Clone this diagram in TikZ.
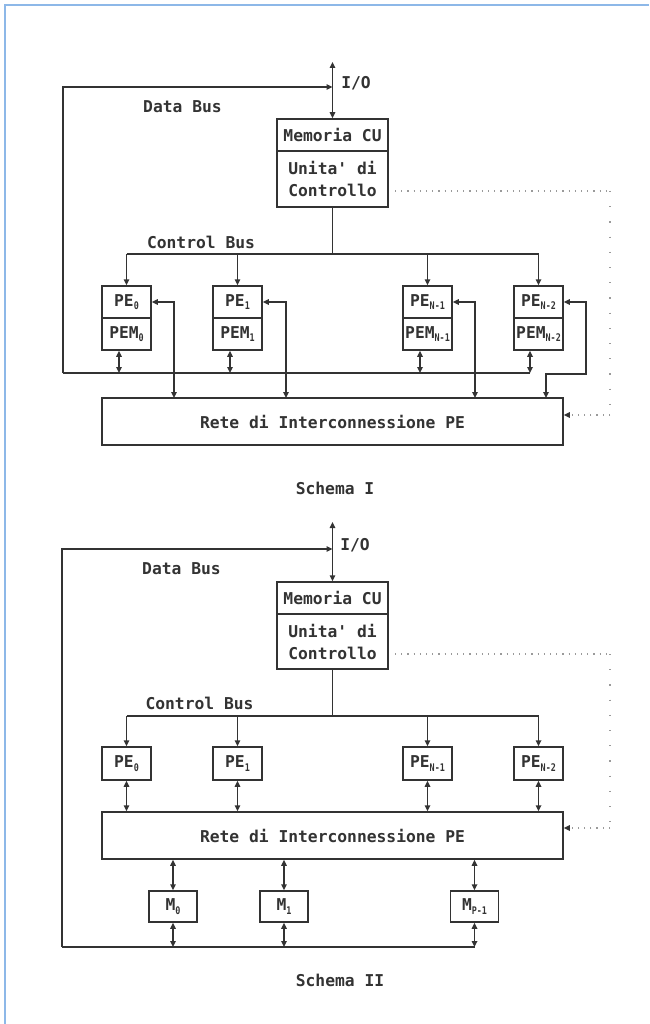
\documentclass[tikz,border=0pt]{standalone}
\usepackage{fontspec}
\usepackage{graphicx}
\usetikzlibrary{arrows.meta}
\newfontfamily\dmono{DejaVu Sans Mono}
\newcommand{\psub}[1]{\raisebox{-0.4ex}{\fontsize{10.5}{10.5}\selectfont\scalebox{0.8}[1]{#1}}}
\definecolor{ink}{HTML}{333333}
\definecolor{frameblue}{HTML}{8DB8E8}
\definecolor{dotgray}{HTML}{9A9A9A}
\begin{document}
\begin{tikzpicture}[x=1pt,y=-1pt,
  every node/.style={font=\dmono\bfseries\fontsize{16.3}{22}\selectfont, text=ink},
  box/.style={draw=ink, line width=1.5pt, inner sep=0pt, fill=white},
  pebox/.style={box, minimum width=49pt, minimum height=32pt},
  mbox/.style={box, minimum width=48pt, minimum height=31pt},
  cubox/.style={box, minimum width=111pt},
  retebox/.style={box, minimum width=461pt, minimum height=47pt},
  wire/.style={draw=ink, line width=1.5pt},
  onearrow/.style={-{Triangle[length=6pt,width=5.5pt]}},
  twoarrow/.style={{Triangle[length=6pt,width=5.5pt]}-{Triangle[length=6pt,width=5.5pt]}},
  hdots/.style={draw=dotgray, line width=1.3pt, dash pattern=on 1.2pt off 5pt},
  vdots/.style={draw=dotgray, line width=1.3pt, dash pattern=on 1.2pt off 14pt},
  lbl/.style={inner sep=0pt}
]
\useasboundingbox (0,0) rectangle (649,1024);
\fill[white] (0,0) rectangle (649,1024);
\draw[frameblue, line width=1.5pt] (5,1024) -- (5,5) -- (649,5);

% ================= Schema I =================
\node[cubox, minimum height=32pt] (cu1m) at (332.5,135) {Memoria CU};
\node[cubox, minimum height=56pt, align=left] (cu1c) at (332.5,179) {Unita' di\\Controllo};
\coordinate (io1) at (332.5,62);
\draw[wire, twoarrow] (io1) -- (cu1m.north);
\node[lbl] (io1l) at (356,83) {I/O};
\node[lbl] (db1l) at (182.5,107) {Data Bus};
\node[lbl] (cb1l) at (201,242) {Control Bus};

\node[pebox] (pe0) at (126.5,302) {PE\psub{0}};
\node[pebox] (pem0) at (126.5,334) {PEM\psub{0}};
\node[pebox] (pe1) at (237.5,302) {PE\psub{1}};
\node[pebox] (pem1) at (237.5,334) {PEM\psub{1}};
\node[pebox] (pen1) at (427.5,302) {PE\psub{N-1}};
\node[pebox] (pemn1) at (427.5,334) {PEM\psub{N-1}};
\node[pebox] (pen2) at (538.5,302) {PE\psub{N-2}};
\node[pebox] (pemn2) at (538.5,334) {PEM\psub{N-2}};

\node[retebox] (rete1) at (332.5,421.5) {Rete di Interconnessione PE};

% data bus
\coordinate (db1a) at (63,373);
\coordinate (db1b) at (332.5,87);
\coordinate (db1e) at (530,373);
\draw[wire, onearrow] (db1a) |- (db1b);
\draw[wire] (db1a) -- (db1e);
\coordinate (t10) at (119,373);
\coordinate (t11) at (230,373);
\coordinate (t12) at (420,373);
\coordinate (t13) at (530,373);
\draw[wire, twoarrow] (t10 |- pem0.south) -- (t10);
\draw[wire, twoarrow] (t11 |- pem1.south) -- (t11);
\draw[wire, twoarrow] (t12 |- pemn1.south) -- (t12);
\draw[wire, twoarrow] (t13 |- pemn2.south) -- (t13);

% control bus
\coordinate (cb1) at (332.5,254);
\coordinate (cb1l0) at (126.5,254);
\coordinate (cb1r0) at (538.5,254);
\draw[wire] (cu1c.south) -- (cb1);
\draw[wire] (cb1l0) -- (cb1r0);
\draw[wire, onearrow] (cb1l0) -- (pe0.north);
\draw[wire, onearrow] (pe1.north |- cb1) -- (pe1.north);
\draw[wire, onearrow] (pen1.north |- cb1) -- (pen1.north);
\draw[wire, onearrow] (cb1r0) -- (pen2.north);

% PE <-> interconnection network
\coordinate (r10) at (174,398);
\coordinate (r11) at (286,398);
\coordinate (r12) at (475,398);
\coordinate (k1) at (586,374);
\coordinate (k2) at (546,398);
\draw[wire, twoarrow] (pe0.east) -| (r10);
\draw[wire, twoarrow] (pe1.east) -| (r11);
\draw[wire, twoarrow] (pen1.east) -| (r12);
\draw[wire, twoarrow] (pen2.east) -| (k1) -| (k2);

% dotted control line
\coordinate (d1a) at (395,191);
\coordinate (d1b) at (610,191);
\coordinate (d1c) at (610,415);
\coordinate (d1d) at (570,415);
\draw[hdots] (d1a) -- (d1b);
\draw[vdots] (d1b) -- (d1c);
\draw[hdots] (d1c) -- (d1d);
\draw[wire, onearrow] (d1d) -- (rete1.east |- d1d);

\node[lbl] (cap1) at (335,488) {Schema I};

% ================= Schema II =================
\node[cubox, minimum height=32pt] (cu2m) at (332.5,598) {Memoria CU};
\node[cubox, minimum height=55pt, align=left] (cu2c) at (332.5,641.5) {Unita' di\\Controllo};
\coordinate (io2) at (332.5,522);
\draw[wire, twoarrow] (io2) -- (cu2m.north);
\node[lbl] (io2l) at (355,545) {I/O};
\node[lbl] (db2l) at (181.5,569) {Data Bus};
\node[lbl] (cb2l) at (199.5,703) {Control Bus};

\node[pebox, minimum height=33pt] (q0) at (126.5,763.5) {PE\psub{0}};
\node[pebox, minimum height=33pt] (q1) at (237.5,763.5) {PE\psub{1}};
\node[pebox, minimum height=33pt] (qn1) at (427.5,763.5) {PE\psub{N-1}};
\node[pebox, minimum height=33pt] (qn2) at (538.5,763.5) {PE\psub{N-2}};

\node[retebox] (rete2) at (332.5,835.5) {Rete di Interconnessione PE};

\node[mbox] (m0) at (173,906.5) {M\psub{0}};
\node[mbox] (m1) at (284,906.5) {M\psub{1}};
\node[mbox] (mp1) at (474.5,906.5) {M\psub{P-1}};

% control bus
\coordinate (cb2) at (332.5,716);
\coordinate (cb2l0) at (126.5,716);
\coordinate (cb2r0) at (538.5,716);
\draw[wire] (cu2c.south) -- (cb2);
\draw[wire] (cb2l0) -- (cb2r0);
\draw[wire, onearrow] (cb2l0) -- (q0.north);
\draw[wire, onearrow] (q1.north |- cb2) -- (q1.north);
\draw[wire, onearrow] (qn1.north |- cb2) -- (qn1.north);
\draw[wire, onearrow] (cb2r0) -- (qn2.north);

% PE <-> network
\draw[wire, twoarrow] (q0.south) -- (q0.south |- rete2.north);
\draw[wire, twoarrow] (q1.south) -- (q1.south |- rete2.north);
\draw[wire, twoarrow] (qn1.south) -- (qn1.south |- rete2.north);
\draw[wire, twoarrow] (qn2.south) -- (qn2.south |- rete2.north);

% network <-> memories
\draw[wire, twoarrow] (m0.north |- rete2.south) -- (m0.north);
\draw[wire, twoarrow] (m1.north |- rete2.south) -- (m1.north);
\draw[wire, twoarrow] (mp1.north |- rete2.south) -- (mp1.north);

% data bus
\coordinate (db2a) at (62,947);
\coordinate (db2b) at (332.5,549);
\coordinate (db2e) at (474.5,947);
\draw[wire, onearrow] (db2a) |- (db2b);
\draw[wire] (db2a) -- (db2e);
\draw[wire, twoarrow] (m0.south) -- (m0.south |- db2a);
\draw[wire, twoarrow] (m1.south) -- (m1.south |- db2a);
\draw[wire, twoarrow] (mp1.south) -- (mp1.south |- db2a);

% dotted control line
\coordinate (d2a) at (395,654);
\coordinate (d2b) at (610,654);
\coordinate (d2c) at (610,828);
\coordinate (d2d) at (570,828);
\draw[hdots] (d2a) -- (d2b);
\draw[vdots] (d2b) -- (d2c);
\draw[hdots] (d2c) -- (d2d);
\draw[wire, onearrow] (d2d) -- (rete2.east |- d2d);

\node[lbl] (cap2) at (340,980) {Schema II};
\end{tikzpicture}
\end{document}
